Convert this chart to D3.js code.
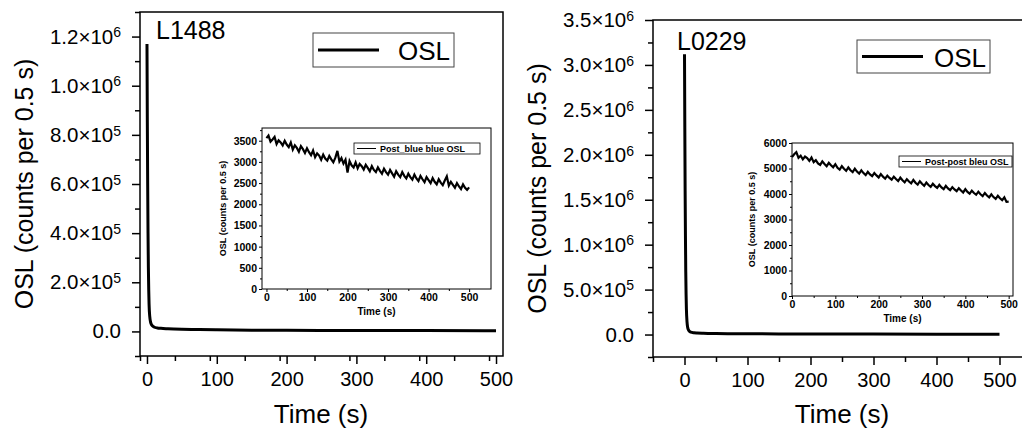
<!DOCTYPE html>
<html>
<head>
<meta charset="utf-8">
<script src="https://cdn.jsdelivr.net/npm/d3@7"></script>
<style>
  body { margin: 0; background: #fff; }
  svg { display: block; font-family: Arial, "Liberation Sans", sans-serif; }
</style>
</head>
<body>
<div id="chart"></div>
<script>
// main decay curves (time in s, OSL counts per 0.5 s)
const timeMain = [0, 0.5, 1, 1.5, 2, 2.5, 3, 4, 5, 6, 8, 10, 15, 20, 30, 50, 75, 100, 150, 200, 300, 400, 500]
const oslL1488 = [1170000, 850000, 600000, 400000, 260000, 170000, 110000, 60000, 40000, 30000, 22000, 18000,
  14000, 12500, 11000, 9000, 7500, 6500, 5200, 4500, 3800, 3300, 3000]
const oslL0229 = [3120000, 2300000, 1600000, 1100000, 700000, 450000, 290000, 140000, 80000, 55000, 35000, 27000,
  20000, 17000, 14000, 11000, 9500, 8500, 7000, 6000, 5000, 4400, 4000]

// inset curves, one reading every 5 s
const timeInset = d3.range(0, 501, 5)
const postBlue = [
  3560, 3620, 3480, 3530, 3590, 3420, 3510, 3460, 3390, 3500,
  3410, 3350, 3460, 3290, 3390, 3330, 3240, 3370, 3300, 3210,
  3320, 3230, 3160, 3270, 3110, 3200, 3150, 3050, 3170, 3080,
  3030, 3140, 3060, 2990, 3100, 3260, 3010, 3090, 2960, 3050,
  2750, 3020, 2920, 2870, 2990, 2850, 2950, 2900, 2820, 2930,
  2860, 2780, 2900, 2810, 2760, 2870, 2790, 2720, 2840, 2760,
  2700, 2810, 2730, 2650, 2780, 2700, 2640, 2760, 2670, 2610,
  2720, 2640, 2580, 2700, 2610, 2550, 2670, 2590, 2520, 2640,
  2570, 2500, 2620, 2530, 2470, 2590, 2510, 2450, 2560, 2660,
  2440, 2530, 2460, 2390, 2500, 2420, 2360, 2470, 2390, 2340,
  2400]
const postPost = [
  5450, 5560, 5640, 5420, 5500, 5360, 5470, 5410, 5300, 5430,
  5250, 5330, 5200, 5140, 5280, 5180, 5090, 5220, 5130, 5050,
  5170, 5030, 4960, 5090, 4990, 4910, 5040, 4930, 4860, 4990,
  4880, 4800, 4930, 4820, 4740, 4870, 4770, 4700, 4820, 4730,
  4650, 4780, 4680, 4600, 4720, 4630, 4560, 4680, 4590, 4510,
  4640, 4540, 4460, 4580, 4490, 4420, 4550, 4440, 4370, 4500,
  4400, 4320, 4450, 4350, 4280, 4400, 4310, 4240, 4360, 4260,
  4190, 4320, 4220, 4150, 4270, 4180, 4110, 4230, 4140, 4060,
  4190, 4080, 4010, 4130, 4040, 3970, 4090, 3990, 3920, 4040,
  3940, 3870, 3990, 3880, 3810, 3930, 3830, 3760, 3870, 3690,
  3700]

// tick values
const mainXTicks = [0, 100, 200, 300, 400, 500]
const leftYTicks = [0, 2e5, 4e5, 6e5, 8e5, 1e6, 1.2e6]
const rightYTicks = [0, 5e5, 1e6, 1.5e6, 2e6, 2.5e6, 3e6, 3.5e6]
const insetXTicks = [0, 100, 200, 300, 400, 500]
const leftInsetYTicks = [0, 500, 1000, 1500, 2000, 2500, 3000, 3500]
const rightInsetYTicks = [0, 1000, 2000, 3000, 4000, 5000, 6000]

const W = 1022, H = 432
const svg = d3.select('#chart').append('svg')
  .attr('width', W).attr('height', H)

const sup = v => {
  if (v === 0) return ['0.0', null]
  const e = Math.floor(Math.log10(v))
  return [(v / Math.pow(10, e)).toFixed(1) + '\u00d710', String(e)]
}

function drawMain(cfg) {
  const g = svg.append('g')
  const x = d3.scaleLinear().domain(cfg.xDomain).range(cfg.xRange)
  const y = d3.scaleLinear().domain(cfg.yDomain).range(cfg.yRange)

  // minor ticks
  const xMinor = d3.range(cfg.xDomain[0], cfg.xDomain[1] + 1, 50).filter(v => v % 100 !== 0 && v >= -50)
  g.append('g').attr('transform', `translate(0,${cfg.yRange[0]})`)
    .call(d3.axisBottom(x).tickValues(xMinor).tickSize(5).tickSizeOuter(0).tickFormat(''))
  g.append('g').attr('transform', `translate(${cfg.xRange[0]},0)`)
    .call(d3.axisLeft(y).tickValues(cfg.yMinor).tickSize(5).tickSizeOuter(0).tickFormat(''))

  const xa = g.append('g').attr('transform', `translate(0,${cfg.yRange[0]})`)
    .call(d3.axisBottom(x).tickValues(mainXTicks).tickSize(8).tickSizeOuter(0).tickPadding(8))
  xa.selectAll('text').attr('font-size', 20).attr('fill', '#000')

  const ya = g.append('g').attr('transform', `translate(${cfg.xRange[0]},0)`)
    .call(d3.axisLeft(y).tickValues(cfg.yTicks).tickSize(8).tickSizeOuter(0).tickPadding(11))
  ya.selectAll('text').attr('font-size', 20.5).attr('fill', '#000')
    .each(function (d) {
      const [m, e] = sup(d)
      const t = d3.select(this).text(null)
      t.append('tspan').text(m)
      if (e) t.append('tspan').attr('dy', '-0.45em').attr('font-size', 14).text(e)
    })

  g.selectAll('.domain').remove()
  g.selectAll('.tick line').attr('stroke', '#000').attr('stroke-width', 1.5)

  // frame
  g.append('rect')
    .attr('x', cfg.xRange[0]).attr('y', cfg.yRange[1])
    .attr('width', cfg.xRange[1] - cfg.xRange[0]).attr('height', cfg.yRange[0] - cfg.yRange[1])
    .attr('fill', 'none').attr('stroke', '#000').attr('stroke-width', 1.5)

  g.append('path')
    .datum(timeMain.map((t, i) => [t, cfg.values[i]]))
    .attr('fill', 'none').attr('stroke', '#000').attr('stroke-width', 3)
    .attr('stroke-linejoin', 'round')
    .attr('d', d3.line().x(d => x(d[0])).y(d => y(d[1])).curve(d3.curveMonotoneX))

  g.append('text')
    .attr('transform', `translate(${cfg.yTitleX},${(cfg.yRange[0] + cfg.yRange[1]) / 2}) rotate(-90)`)
    .attr('text-anchor', 'middle').attr('dominant-baseline', 'central')
    .attr('font-size', 25).text('OSL (counts per 0.5 s)')

  g.append('text')
    .attr('x', cfg.xTitleX).attr('y', 423)
    .attr('text-anchor', 'middle').attr('font-size', 26).text('Time (s)')

  g.append('text')
    .attr('x', cfg.label[0]).attr('y', cfg.label[1])
    .attr('font-size', 25).text(cfg.name)

  const lg = cfg.legend
  g.append('rect').attr('x', lg.x).attr('y', lg.y).attr('width', lg.w).attr('height', lg.h)
    .attr('fill', '#fff').attr('stroke', '#444').attr('stroke-width', 1)
  g.append('line').attr('x1', lg.x + 5).attr('x2', lg.x + 66)
    .attr('y1', lg.y + lg.h / 2).attr('y2', lg.y + lg.h / 2)
    .attr('stroke', '#000').attr('stroke-width', 3)
  g.append('text').attr('x', lg.x + lg.w - 4).attr('y', lg.y + lg.h / 2 + 1)
    .attr('text-anchor', 'end').attr('dominant-baseline', 'central')
    .attr('font-size', 26).text('OSL')
}

function drawInset(cfg) {
  const g = svg.append('g').attr('font-weight', 'bold')
  const x = d3.scaleLinear().domain(cfg.xDomain).range(cfg.xRange)
  const y = d3.scaleLinear().domain(cfg.yDomain).range(cfg.yRange)

  g.append('rect')
    .attr('x', cfg.xRange[0]).attr('y', cfg.yRange[1])
    .attr('width', cfg.xRange[1] - cfg.xRange[0]).attr('height', cfg.yRange[0] - cfg.yRange[1])
    .attr('fill', '#fff').attr('stroke', '#000').attr('stroke-width', 1)

  const xMinor = [50, 150, 250, 350, 450]
  g.append('g').attr('transform', `translate(0,${cfg.yRange[0]})`)
    .call(d3.axisBottom(x).tickValues(xMinor).tickSize(2).tickSizeOuter(0).tickFormat(''))
  g.append('g').attr('transform', `translate(${cfg.xRange[0]},0)`)
    .call(d3.axisLeft(y).tickValues(cfg.yMinor).tickSize(2).tickSizeOuter(0).tickFormat(''))

  const xa = g.append('g').attr('transform', `translate(0,${cfg.yRange[0]})`)
    .call(d3.axisBottom(x).tickValues(insetXTicks).tickSize(3).tickSizeOuter(0).tickPadding(2).tickFormat(d3.format('d')))
  xa.selectAll('text').attr('font-size', 10.5).attr('fill', '#000')
  const ya = g.append('g').attr('transform', `translate(${cfg.xRange[0]},0)`)
    .call(d3.axisLeft(y).tickValues(cfg.yTicks).tickSize(3).tickSizeOuter(0).tickPadding(2).tickFormat(d3.format('d')))
  ya.selectAll('text').attr('font-size', 10.5).attr('fill', '#000')
  g.selectAll('.domain').remove()
  g.selectAll('.tick line').attr('stroke', '#000')

  g.append('path')
    .datum(timeInset.map((t, i) => [t, cfg.values[i]]))
    .attr('fill', 'none').attr('stroke', '#000').attr('stroke-width', 2.2)
    .attr('d', d3.line().x(d => x(d[0])).y(d => y(d[1])))

  g.append('text')
    .attr('transform', `translate(${cfg.yTitleX},${(cfg.yRange[0] + cfg.yRange[1]) / 2}) rotate(-90)`)
    .attr('text-anchor', 'middle').attr('dominant-baseline', 'central')
    .attr('font-size', 9).text('OSL (counts per 0.5 s)')
  g.append('text')
    .attr('x', (cfg.xRange[0] + cfg.xRange[1]) / 2).attr('y', cfg.yRange[0] + 26)
    .attr('text-anchor', 'middle').attr('font-size', 10).text('Time (s)')

  const lg = cfg.legend
  g.append('rect').attr('x', lg.x).attr('y', lg.y).attr('width', lg.w).attr('height', lg.h)
    .attr('fill', '#fff').attr('stroke', '#000').attr('stroke-width', 0.8)
  g.append('line').attr('x1', lg.x + 3).attr('x2', lg.x + 22)
    .attr('y1', lg.y + lg.h / 2).attr('y2', lg.y + lg.h / 2)
    .attr('stroke', '#000').attr('stroke-width', 1)
  g.append('text').attr('x', lg.x + 26).attr('y', lg.y + lg.h / 2 + 0.5)
    .attr('dominant-baseline', 'central').attr('font-size', 9).text(cfg.name)
}

drawMain({
  xDomain: [-10, 510], xRange: [140, 503],
  yDomain: [-1e5, 1.3e6], yRange: [356, 12],
  yTicks: leftYTicks, yMinor: d3.range(-1e5, 1.31e6, 2e5),
  values: oslL1488, name: 'L1488', label: [156, 39],
  yTitleX: 24, xTitleX: 321,
  legend: { x: 313, y: 33, w: 141, h: 34 }
})

drawMain({
  xDomain: [-50, 550], xRange: [653, 1031],
  yDomain: [-2.5e5, 3.5e6], yRange: [357, 20],
  yTicks: rightYTicks, yMinor: d3.range(-2.5e5, 3.3e6, 5e5),
  values: oslL0229, name: 'L0229', label: [677, 50],
  yTitleX: 537, xTitleX: 842,
  legend: { x: 857, y: 40, w: 133, h: 33 }
})

drawInset({
  xDomain: [-11, 554], xRange: [262, 491],
  yDomain: [0, 3800], yRange: [289, 128],
  yTicks: leftInsetYTicks, yMinor: [250, 750, 1250, 1750, 2250, 2750, 3250, 3750],
  values: postBlue, name: 'Post_blue blue OSL',
  yTitleX: 223,
  legend: { x: 354, y: 143, w: 126, h: 11 }
})

drawInset({
  xDomain: [0, 510], xRange: [792, 1013],
  yDomain: [0, 6000], yRange: [296, 143],
  yTicks: rightInsetYTicks, yMinor: [500, 1500, 2500, 3500, 4500, 5500],
  values: postPost, name: 'Post-post bleu OSL',
  yTitleX: 752,
  legend: { x: 899, y: 156, w: 113, h: 11 }
})
</script>
</body>
</html>
